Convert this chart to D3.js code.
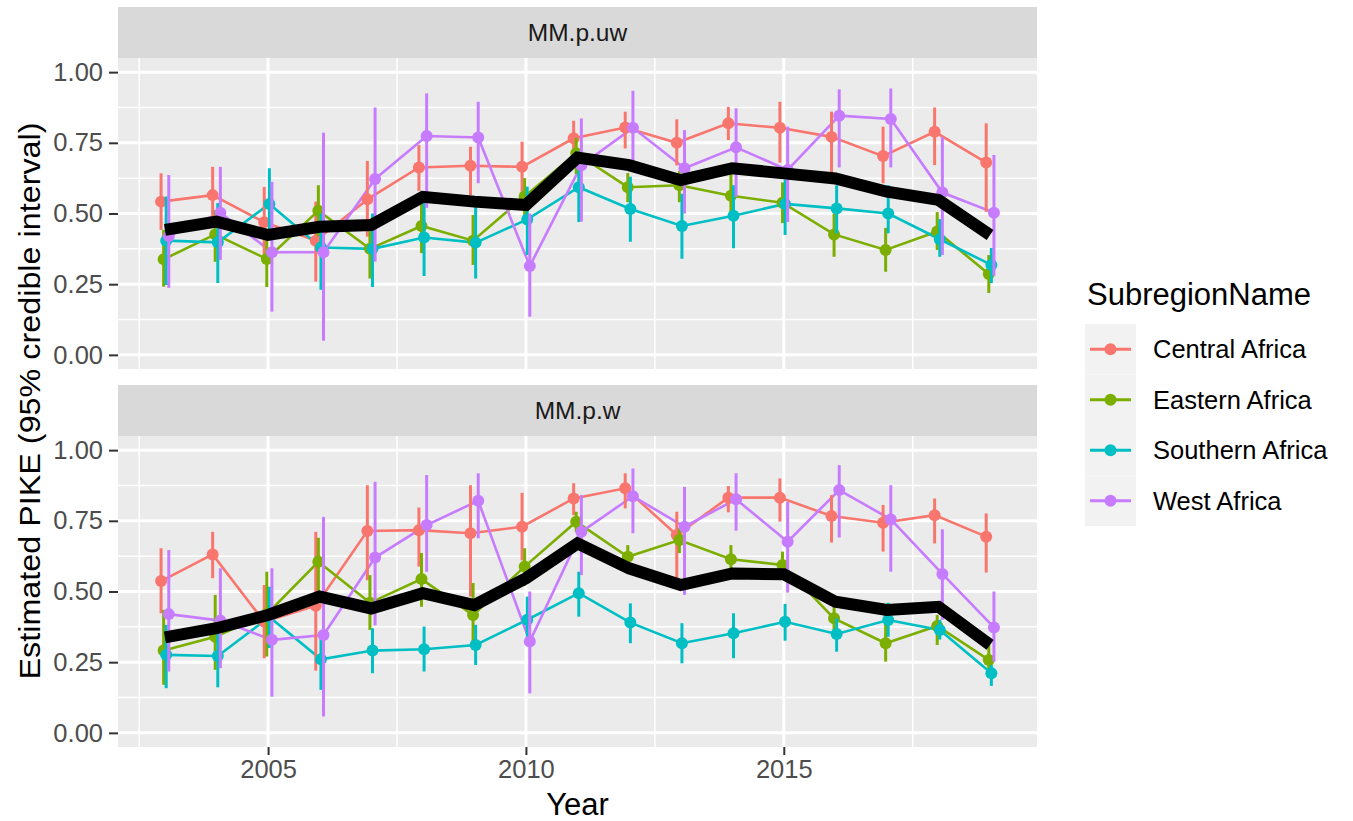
<!DOCTYPE html>
<html>
<head>
<meta charset="utf-8">
<script src="https://cdn.jsdelivr.net/npm/d3@7"></script>
<style>
  body { margin: 0; background: #fff; }
  text { font-family: "Liberation Sans", Arial, sans-serif; }
</style>
</head>
<body>
<div id="chart"></div>
<script>
// years and series
const years = [2003, 2004, 2005, 2006, 2007, 2008, 2009, 2010, 2011, 2012, 2013, 2014, 2015, 2016, 2017, 2018, 2019];
const subregions = ["Central Africa", "Eastern Africa", "Southern Africa", "West Africa"];
const panels = ["MM.p.uw", "MM.p.w"];
const yTicks = [0, 0.25, 0.5, 0.75, 1];
const xTicks = [2005, 2010, 2015];

// MM.p.uw
const uwCentral = [0.542, 0.565, 0.469, 0.404, 0.55, 0.663, 0.669, 0.665, 0.766, 0.804, 0.75, 0.819, 0.803, 0.771, 0.703, 0.789, 0.68];
const uwCentralLo = [0.442, 0.47, 0.346, 0.259, 0.418, 0.58, 0.565, 0.577, 0.70, 0.73, 0.67, 0.76, 0.68, 0.643, 0.607, 0.671, 0.506];
const uwCentralHi = [0.642, 0.665, 0.594, 0.542, 0.686, 0.742, 0.736, 0.754, 0.828, 0.86, 0.833, 0.877, 0.895, 0.86, 0.807, 0.875, 0.819];
const uwEastern = [0.338, 0.426, 0.339, 0.51, 0.375, 0.456, 0.404, 0.56, 0.713, 0.593, 0.60, 0.563, 0.538, 0.426, 0.371, 0.436, 0.286];
const uwEasternLo = [0.241, 0.329, 0.24, 0.42, 0.27, 0.36, 0.318, 0.48, 0.64, 0.54, 0.54, 0.48, 0.466, 0.347, 0.294, 0.371, 0.219];
const uwEasternHi = [0.442, 0.512, 0.43, 0.60, 0.48, 0.537, 0.495, 0.625, 0.767, 0.643, 0.65, 0.64, 0.61, 0.50, 0.449, 0.505, 0.353];
const uwSouthern = [0.404, 0.398, 0.534, 0.38, 0.375, 0.415, 0.397, 0.479, 0.593, 0.516, 0.456, 0.492, 0.534, 0.518, 0.50, 0.409, 0.318];
const uwSouthernLo = [0.247, 0.254, 0.42, 0.23, 0.24, 0.279, 0.27, 0.353, 0.47, 0.40, 0.34, 0.377, 0.424, 0.43, 0.43, 0.347, 0.254];
const uwSouthernHi = [0.56, 0.537, 0.66, 0.50, 0.50, 0.55, 0.53, 0.595, 0.72, 0.63, 0.57, 0.60, 0.62, 0.60, 0.60, 0.48, 0.378];
const uwWest = [0.42, 0.503, 0.363, 0.363, 0.622, 0.774, 0.769, 0.314, 0.671, 0.803, 0.66, 0.734, 0.654, 0.846, 0.834, 0.574, 0.503];
const uwWestLo = [0.237, 0.336, 0.153, 0.05, 0.33, 0.52, 0.607, 0.135, 0.471, 0.65, 0.50, 0.559, 0.47, 0.663, 0.663, 0.353, 0.28];
const uwWestHi = [0.636, 0.665, 0.612, 0.786, 0.875, 0.925, 0.895, 0.50, 0.836, 0.934, 0.795, 0.872, 0.807, 0.939, 0.942, 0.77, 0.707];
const uwOverall = [0.442, 0.471, 0.424, 0.453, 0.459, 0.559, 0.542, 0.53, 0.698, 0.671, 0.618, 0.66, 0.642, 0.624, 0.577, 0.548, 0.424];

// MM.p.w
const wCentral = [0.537, 0.631, 0.393, 0.45, 0.714, 0.717, 0.706, 0.729, 0.829, 0.865, 0.70, 0.832, 0.832, 0.767, 0.743, 0.77, 0.694];
const wCentralLo = [0.423, 0.547, 0.264, 0.22, 0.54, 0.588, 0.482, 0.61, 0.77, 0.794, 0.547, 0.78, 0.747, 0.673, 0.641, 0.67, 0.567];
const wCentralHi = [0.653, 0.711, 0.523, 0.711, 0.876, 0.797, 0.876, 0.849, 0.883, 0.918, 0.782, 0.873, 0.90, 0.841, 0.806, 0.829, 0.776];
const wEastern = [0.291, 0.34, 0.42, 0.605, 0.46, 0.544, 0.417, 0.588, 0.747, 0.623, 0.682, 0.614, 0.594, 0.405, 0.317, 0.378, 0.258];
const wEasternLo = [0.17, 0.223, 0.27, 0.5, 0.364, 0.446, 0.318, 0.52, 0.71, 0.58, 0.636, 0.56, 0.55, 0.34, 0.252, 0.311, 0.22];
const wEasternHi = [0.435, 0.488, 0.57, 0.69, 0.558, 0.636, 0.53, 0.653, 0.782, 0.664, 0.724, 0.664, 0.641, 0.46, 0.417, 0.417, 0.318];
const wSouthern = [0.276, 0.272, 0.41, 0.26, 0.291, 0.296, 0.311, 0.40, 0.494, 0.39, 0.317, 0.352, 0.393, 0.35, 0.399, 0.364, 0.211];
const wSouthernLo = [0.158, 0.161, 0.3, 0.152, 0.211, 0.217, 0.24, 0.33, 0.411, 0.317, 0.246, 0.264, 0.326, 0.287, 0.34, 0.33, 0.166];
const wSouthernHi = [0.382, 0.38, 0.517, 0.358, 0.37, 0.376, 0.382, 0.482, 0.57, 0.458, 0.388, 0.423, 0.456, 0.405, 0.46, 0.40, 0.24];
const wWest = [0.42, 0.397, 0.329, 0.346, 0.62, 0.735, 0.821, 0.323, 0.711, 0.837, 0.729, 0.826, 0.676, 0.859, 0.755, 0.562, 0.373];
const wWestLo = [0.217, 0.229, 0.128, 0.058, 0.38, 0.57, 0.688, 0.14, 0.558, 0.706, 0.488, 0.715, 0.496, 0.691, 0.57, 0.40, 0.252];
const wWestHi = [0.647, 0.582, 0.582, 0.764, 0.888, 0.912, 0.918, 0.50, 0.841, 0.935, 0.87, 0.918, 0.817, 0.947, 0.876, 0.72, 0.50];
const wOverall = [0.338, 0.37, 0.417, 0.482, 0.44, 0.494, 0.452, 0.547, 0.67, 0.582, 0.523, 0.564, 0.561, 0.464, 0.435, 0.446, 0.311];

const colors = ["#F8766D", "#7CAE00", "#00BFC4", "#C77CFF"];

// build panel tables from the arrays
const panelData = [
  { name: panels[0], overall: uwOverall, series: [
    [uwCentral, uwCentralLo, uwCentralHi], [uwEastern, uwEasternLo, uwEasternHi],
    [uwSouthern, uwSouthernLo, uwSouthernHi], [uwWest, uwWestLo, uwWestHi]] },
  { name: panels[1], overall: wOverall, series: [
    [wCentral, wCentralLo, wCentralHi], [wEastern, wEasternLo, wEasternHi],
    [wSouthern, wSouthernLo, wSouthernHi], [wWest, wWestLo, wWestHi]] }
];

const W = 1353, H = 821;
const plot = { left: 118, right: 1037 };
const stripH = 51;
const panelTops = [7, 385];
const panelH = 311;
const dodge = 0.2;

const svg = d3.select("#chart").append("svg")
  .attr("width", W).attr("height", H);

// x scale: dodged data range, then ggplot 5% expansion
let xmin = d3.min(years) - dodge / 2, xmax = d3.max(years) + dodge / 2;
let xpad = (xmax - xmin) * 0.05;
const x = d3.scaleLinear().domain([xmin - xpad, xmax + xpad]).range([plot.left, plot.right]);
const offset = i => (i - (subregions.length - 1) / 2) * dodge / subregions.length;

panelData.forEach(function(p, pi) {
  let top = panelTops[pi];
  let y0 = top + stripH, y1 = y0 + panelH;
  let y = d3.scaleLinear().domain([-0.05, 1.05]).range([y1, y0]);

  // strip
  svg.append("rect").attr("x", plot.left).attr("y", top)
    .attr("width", plot.right - plot.left).attr("height", stripH).attr("fill", "#D9D9D9");
  svg.append("text").attr("x", (plot.left + plot.right) / 2).attr("y", top + stripH / 2)
    .attr("dy", "0.36em").attr("text-anchor", "middle")
    .style("font-size", "24.5px").attr("fill", "#1A1A1A").text(p.name);

  // panel background and grid
  let g = svg.append("g");
  g.append("rect").attr("x", plot.left).attr("y", y0)
    .attr("width", plot.right - plot.left).attr("height", panelH).attr("fill", "#EBEBEB");
  let xMinor = [2002.5, 2007.5, 2012.5, 2017.5];
  let yMinor = [0.125, 0.375, 0.625, 0.875];
  g.selectAll(".xminor").data(xMinor).enter().append("line")
    .attr("x1", d => x(d)).attr("x2", d => x(d)).attr("y1", y0).attr("y2", y1)
    .attr("stroke", "#fff").attr("stroke-width", 1.5);
  g.selectAll(".yminor").data(yMinor).enter().append("line")
    .attr("x1", plot.left).attr("x2", plot.right).attr("y1", d => y(d)).attr("y2", d => y(d))
    .attr("stroke", "#fff").attr("stroke-width", 1.5);
  g.selectAll(".xmajor").data(xTicks).enter().append("line")
    .attr("x1", d => x(d)).attr("x2", d => x(d)).attr("y1", y0).attr("y2", y1)
    .attr("stroke", "#fff").attr("stroke-width", 3);
  g.selectAll(".ymajor").data(yTicks).enter().append("line")
    .attr("x1", plot.left).attr("x2", plot.right).attr("y1", d => y(d)).attr("y2", d => y(d))
    .attr("stroke", "#fff").attr("stroke-width", 3);

  // y axis
  let yAxis = d3.axisLeft(y).tickValues(yTicks).tickFormat(d3.format(".2f")).tickSize(9).tickPadding(6);
  let ya = svg.append("g").attr("transform", "translate(" + plot.left + ",0)").call(yAxis);
  ya.select(".domain").remove();
  ya.selectAll("line").attr("stroke", "#333").attr("stroke-width", 2);
  ya.selectAll("text").attr("fill", "#4D4D4D").style("font-size", "25.5px");

  // coloured lines
  let line = d3.line().x(d => x(d[0])).y(d => y(d[1]));
  p.series.forEach(function(s, si) {
    let pts = years.map((yr, k) => [yr + offset(si), s[0][k]]);
    g.append("path").datum(pts).attr("d", line)
      .attr("fill", "none").attr("stroke", colors[si]).attr("stroke-width", 2.6);
  });
  // pointranges
  p.series.forEach(function(s, si) {
    let grp = g.append("g");
    grp.selectAll("line").data(years).enter().append("line")
      .attr("x1", (d) => x(d + offset(si))).attr("x2", (d) => x(d + offset(si)))
      .attr("y1", (d, k) => y(s[1][k])).attr("y2", (d, k) => y(s[2][k]))
      .attr("stroke", colors[si]).attr("stroke-width", 3);
    grp.selectAll("circle").data(years).enter().append("circle")
      .attr("cx", (d) => x(d + offset(si))).attr("cy", (d, k) => y(s[0][k]))
      .attr("r", 6).attr("fill", colors[si]);
  });
  // overall black line
  g.append("path").datum(years.map((yr, k) => [yr, p.overall[k]])).attr("d", line)
    .attr("fill", "none").attr("stroke", "#000").attr("stroke-width", 12);

  // x axis only under bottom panel
  if (pi === panelData.length - 1) {
    let xAxis = d3.axisBottom(x).tickValues(xTicks).tickFormat(d3.format("d")).tickSize(8).tickPadding(5);
    let xa = svg.append("g").attr("transform", "translate(0," + y1 + ")").call(xAxis);
    xa.select(".domain").remove();
    xa.selectAll("line").attr("stroke", "#333").attr("stroke-width", 2);
    xa.selectAll("text").attr("fill", "#4D4D4D").style("font-size", "25.5px");
  }
});

// axis titles
svg.append("text").attr("x", (plot.left + plot.right) / 2).attr("y", 815)
  .attr("text-anchor", "middle").style("font-size", "31px").attr("fill", "#000").text("Year");
svg.append("text").attr("transform", "translate(40,401) rotate(-90)")
  .attr("text-anchor", "middle").style("font-size", "30px").attr("fill", "#000")
  .attr("textLength", 557).attr("lengthAdjust", "spacingAndGlyphs")
  .text("Estimated PIKE (95% credible interval)");

// legend
let lg = svg.append("g").attr("transform", "translate(1085,0)");
lg.append("text").attr("x", 2).attr("y", 305).style("font-size", "31px").attr("fill", "#000").text("SubregionName");
let keyTop = 324, keyH = 50.5;
subregions.forEach(function(name, i) {
  let cy = keyTop + keyH * i + keyH / 2;
  lg.append("rect").attr("x", 0).attr("y", keyTop + keyH * i).attr("width", 51).attr("height", keyH)
    .attr("fill", "#F2F2F2");
  lg.append("line").attr("x1", 5).attr("x2", 46).attr("y1", cy).attr("y2", cy)
    .attr("stroke", colors[i]).attr("stroke-width", 3);
  lg.append("circle").attr("cx", 25.5).attr("cy", cy).attr("r", 6).attr("fill", colors[i]);
  lg.append("text").attr("x", 68).attr("y", cy).attr("dy", "0.36em")
    .style("font-size", "25.5px").attr("fill", "#000").text(name);
});
</script>
</body>
</html>
